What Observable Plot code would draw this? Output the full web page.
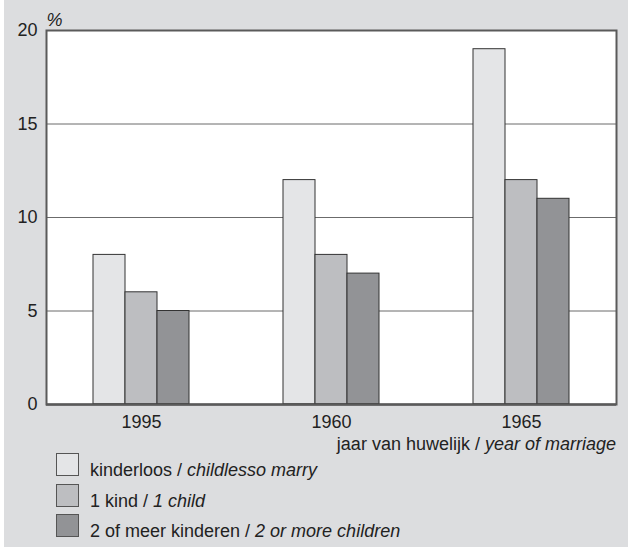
<!DOCTYPE html>
<html>
<head>
<meta charset="utf-8">
<script src="https://cdn.jsdelivr.net/npm/d3@7"></script>
<script src="https://cdn.jsdelivr.net/npm/@observablehq/plot@0.6"></script>
<style>
  html, body { margin: 0; padding: 0; background: #dcdddf; overflow: hidden; }
  #page {
    position: relative; width: 628px; height: 547px;
    background: #dcdddf; font-family: "Liberation Sans", Arial, Helvetica, sans-serif;
    color: #222; overflow: hidden;
  }
  #strip { position: absolute; left: 0; top: 0; width: 4px; height: 547px; background: #fff; }
  #chart { position: absolute; left: 0; top: 0; }
  #xlabel {
    position: absolute; right: 12px; top: 435px; font-size: 18px; line-height: 18px;
    white-space: nowrap;
  }
  #legend { position: absolute; left: 56px; top: 453px; }
  .row { position: relative; height: 30.5px; }
  .sw { position: absolute; left: 0; top: 0; width: 21px; height: 21px; border: 1px solid #555; }
  .lab { position: absolute; left: 34px; top: 8px; font-size: 18px; line-height: 18px; white-space: nowrap; }
  i { font-style: italic; }
</style>
</head>
<body>
<div id="page">
  <div id="strip"></div>
  <div id="chart"></div>
  <div id="xlabel"></div>
  <div id="legend"></div>
</div>
<script>
// ---- data ----
const years = ["1995", "1960", "1965"];
const seriesNL = ["kinderloos", "1 kind", "2 of meer kinderen"];
const seriesEN = ["childlesso marry", "1 child", "2 or more children"];
const childless = [8, 12, 19];
const oneChild = [6, 8, 12];
const twoOrMore = [5, 7, 11];
const yTicks = [0, 5, 10, 15, 20];
const colors = ["#e4e5e7", "#bdbec1", "#929396"];
const xLabelNL = "jaar van huwelijk / ";
const xLabelEN = "year of marriage";
const yUnit = "%";

const seriesValues = [childless, oneChild, twoOrMore];
const data = years.flatMap((yr, i) =>
  seriesNL.map((s, j) => ({ year: yr, series: s, value: seriesValues[j][i] }))
);

const chart = Plot.plot({
  width: 628,
  height: 436,
  marginTop: 30,
  marginLeft: 46,
  marginRight: 12,
  marginBottom: 32,
  style: { background: "transparent", fontFamily: "'Liberation Sans', Arial, sans-serif", fontSize: "18px", color: "#222", overflow: "visible" },
  fx: { domain: years, padding: 0 },
  x: { domain: seriesNL, paddingInner: 0, paddingOuter: 1.44, axis: null },
  y: { domain: [0, 20] },
  color: { domain: seriesNL, range: colors },
  marks: [
    Plot.frame({ fill: "white", facet: "super" }),
    Plot.gridY([5, 10, 15], { stroke: "#6b6b6b", strokeOpacity: 1, strokeWidth: 1 }),
    Plot.barY(data, { fx: "year", x: "series", y: "value", fill: "series", stroke: "#333", strokeWidth: 1 }),
    Plot.ruleY([0], { stroke: "#222", strokeWidth: 2 }),
    Plot.frame({ stroke: "#5a5a5a", strokeWidth: 2, facet: "super" }),
    Plot.axisY(yTicks, { tickSize: 0, tickPadding: 9, fontSize: 18, label: null, fill: "#222" }),
    Plot.axisFx({ anchor: "bottom", tickSize: 0, tickPadding: 11, fontSize: 18, label: null, fill: "#222" }),
    Plot.text([yUnit], { frameAnchor: "top-left", text: d => d, textAnchor: "start", lineAnchor: "bottom", dy: -5, fontStyle: "italic", fontSize: 18, fill: "#222", facet: "super" })
  ]
});
document.getElementById("chart").appendChild(chart);

document.getElementById("xlabel").innerHTML = xLabelNL + "<i>" + xLabelEN + "</i>";
const legend = document.getElementById("legend");
seriesNL.forEach((s, j) => {
  const row = document.createElement("div");
  row.className = "row";
  row.innerHTML = `<div class="sw" style="background:${colors[j]}"></div><div class="lab">${s} / <i>${seriesEN[j]}</i></div>`;
  legend.appendChild(row);
});
</script>
</body>
</html>
